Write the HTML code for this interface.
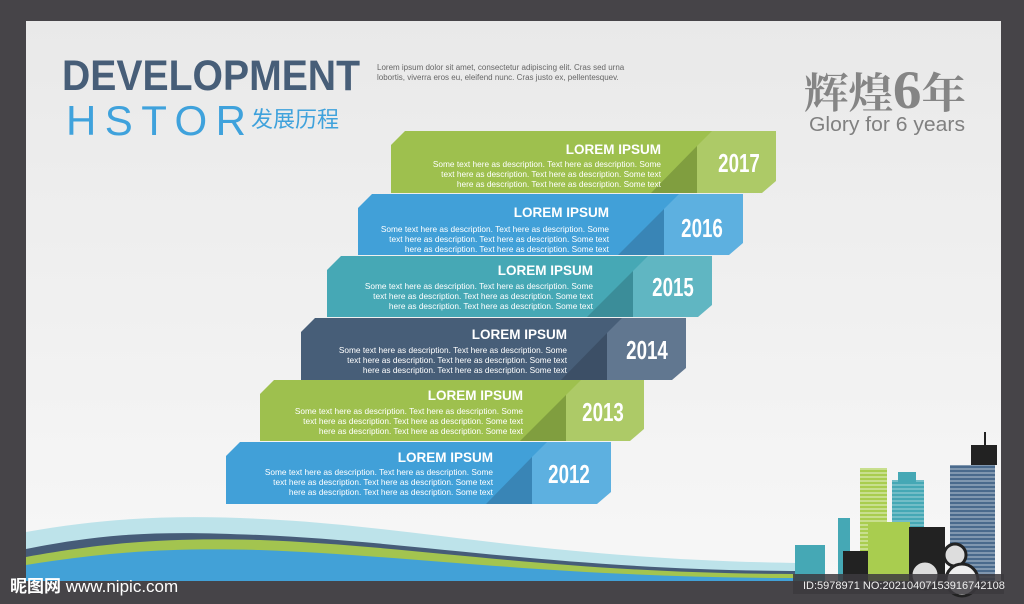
<!DOCTYPE html>
<html><head><meta charset="utf-8"><style>
html,body{margin:0;padding:0;background:#464448;}
svg{display:block}
</style></head><body>
<svg width="1024" height="604" viewBox="0 0 1024 604" xmlns="http://www.w3.org/2000/svg" font-family="Liberation Sans, sans-serif">
<defs>
<linearGradient id="bg" x1="0" y1="0" x2="0" y2="1"><stop offset="0" stop-color="#e9e9e9"/><stop offset="1" stop-color="#f7f7f7"/></linearGradient>
<pattern id="stripes" width="4" height="4" patternUnits="userSpaceOnUse"><rect width="4" height="2" fill="#fff" opacity="0.6"/></pattern>
</defs>
<rect width="1024" height="604" fill="#464448"/>
<rect x="26" y="21" width="975" height="560" fill="url(#bg)"/>
<!-- header -->
<text x="62" y="90" font-size="43" font-weight="bold" fill="#475e78" textLength="298" lengthAdjust="spacingAndGlyphs">DEVELOPMENT</text>
<text x="66" y="135" font-size="42" fill="#3fa2dc" textLength="180" lengthAdjust="spacing">HSTOR</text>
<text x="251" y="127" font-size="22" fill="#3fa2dc" font-family="Liberation Sans, Noto Sans CJK SC, sans-serif">发展历程</text>
<text x="377" y="70" font-size="8" fill="#666">Lorem ipsum dolor sit amet, consectetur adipiscing elit. Cras sed urna</text>
<text x="377" y="80" font-size="8" fill="#666">lobortis, viverra eros eu, eleifend nunc. Cras justo ex, pellentesquev.</text>
<text x="804" y="108" font-size="42" font-weight="bold" fill="#858585" font-family="Liberation Serif, Noto Serif CJK SC, serif" textLength="162" lengthAdjust="spacingAndGlyphs">辉煌<tspan font-size="54">6</tspan>年</text>
<text x="809" y="131" font-size="20" fill="#808080" textLength="156" lengthAdjust="spacingAndGlyphs">Glory for 6 years</text>

<!-- bars -->
<g id="bars">
<polygon points="391,145 405,131 697,131 697,193 391,193" fill="#9ec04e"/>
<polygon points="697,131 776,131 776,181 762,193 697,193" fill="#adca67"/>
<polygon points="651,193 697,193 697,146" fill="#809e3f"/>
<polygon points="697,131 712,131 697,146" fill="#9ec04e"/>
<polygon points="358,208 372,194 664,194 664,255 358,255" fill="#41a0d8"/>
<polygon points="664,194 743,194 743,243 729,255 664,255" fill="#5db0e0"/>
<polygon points="618,255 664,255 664,209" fill="#3985b6"/>
<polygon points="664,194 679,194 664,209" fill="#41a0d8"/>
<polygon points="327,270 341,256 633,256 633,317 327,317" fill="#46a8b5"/>
<polygon points="633,256 712,256 712,305 698,317 633,317" fill="#60b6c2"/>
<polygon points="587,317 633,317 633,271" fill="#3b8d99"/>
<polygon points="633,256 648,256 633,271" fill="#46a8b5"/>
<polygon points="301,332 315,318 607,318 607,380 301,380" fill="#475e78"/>
<polygon points="607,318 686,318 686,368 672,380 607,380" fill="#617790"/>
<polygon points="561,380 607,380 607,333" fill="#3c4f66"/>
<polygon points="607,318 622,318 607,333" fill="#475e78"/>
<polygon points="260,394 274,380 566,380 566,441 260,441" fill="#9ec04e"/>
<polygon points="566,380 644,380 644,429 630,441 566,441" fill="#adca67"/>
<polygon points="520,441 566,441 566,395" fill="#809e3f"/>
<polygon points="566,380 581,380 566,395" fill="#9ec04e"/>
<polygon points="226,456 240,442 532,442 532,504 226,504" fill="#41a0d8"/>
<polygon points="532,442 611,442 611,492 597,504 532,504" fill="#5db0e0"/>
<polygon points="486,504 532,504 532,457" fill="#3985b6"/>
<polygon points="532,442 547,442 532,457" fill="#41a0d8"/>
</g>
<g fill="#fff" text-anchor="end">
<g font-size="13.5" font-weight="bold">
<text x="661" y="154">LOREM IPSUM</text>
<text x="609" y="217">LOREM IPSUM</text>
<text x="593" y="275">LOREM IPSUM</text>
<text x="567" y="339">LOREM IPSUM</text>
<text x="523" y="400">LOREM IPSUM</text>
<text x="493" y="462">LOREM IPSUM</text>
</g>
<g font-size="8.3">
<text x="661" y="167">Some text here as description. Text here as description. Some</text>
<text x="661" y="177">text here as description. Text here as description. Some text</text>
<text x="661" y="187">here as description. Text here as description. Some text</text>
<text x="609" y="232">Some text here as description. Text here as description. Some</text>
<text x="609" y="242">text here as description. Text here as description. Some text</text>
<text x="609" y="252">here as description. Text here as description. Some text</text>
<text x="593" y="289">Some text here as description. Text here as description. Some</text>
<text x="593" y="299">text here as description. Text here as description. Some text</text>
<text x="593" y="309">here as description. Text here as description. Some text</text>
<text x="567" y="353">Some text here as description. Text here as description. Some</text>
<text x="567" y="363">text here as description. Text here as description. Some text</text>
<text x="567" y="373">here as description. Text here as description. Some text</text>
<text x="523" y="414">Some text here as description. Text here as description. Some</text>
<text x="523" y="424">text here as description. Text here as description. Some text</text>
<text x="523" y="434">here as description. Text here as description. Some text</text>
<text x="493" y="475">Some text here as description. Text here as description. Some</text>
<text x="493" y="485">text here as description. Text here as description. Some text</text>
<text x="493" y="495">here as description. Text here as description. Some text</text>
</g>
</g>
<g fill="#fff" font-size="26" font-weight="bold" text-anchor="middle">
<text transform="translate(739,172) scale(0.72,1)">2017</text>
<text transform="translate(702,237) scale(0.72,1)">2016</text>
<text transform="translate(673,296) scale(0.72,1)">2015</text>
<text transform="translate(647,359) scale(0.72,1)">2014</text>
<text transform="translate(603,421) scale(0.72,1)">2013</text>
<text transform="translate(569,483) scale(0.72,1)">2012</text>
</g>

<!-- waves -->
<path d="M26,532 C120,515 200,515 280,520 C420,528 560,560 800,563 L800,581 L26,581 Z" fill="#bde3ea"/>
<path d="M26,549 C120,530 180,532 260,535 C420,542 560,570 800,571 L800,581 L26,581 Z" fill="#465c78"/>
<path d="M26,557 C120,540 180,538 260,540 C420,546 560,574 800,574 L800,581 L26,581 Z" fill="#a3c44f"/>
<path d="M26,565 C120,550 180,548 260,550 C420,556 560,578 800,578 L800,581 L26,581 Z" fill="#42a1d7"/>

<!-- city -->
<g>
<rect x="795" y="545" width="30" height="36" fill="#45a8b5"/>
<rect x="838" y="518" width="12" height="63" fill="#45a8b5"/>
<rect x="892" y="480" width="32" height="70" fill="#45a8b5"/>
<rect x="892" y="480" width="32" height="70" fill="url(#stripes)" opacity="0.4"/>
<rect x="898" y="472" width="18" height="10" fill="#45a8b5"/>
<rect x="860" y="468" width="27" height="113" fill="#a9cd4f"/>
<rect x="860" y="468" width="27" height="113" fill="url(#stripes)" opacity="0.6"/>
<rect x="868" y="522" width="42" height="59" fill="#a9cd4f"/>
<rect x="909" y="527" width="36" height="54" fill="#222"/>
<rect x="843" y="551" width="25" height="30" fill="#222"/>
<rect x="950" y="465" width="45" height="116" fill="#4a6a8c"/>
<rect x="950" y="465" width="45" height="116" fill="url(#stripes)" opacity="0.5"/>
<rect x="971" y="445" width="26" height="20" fill="#222"/>
<rect x="984" y="432" width="2" height="14" fill="#222"/>
<circle cx="925" cy="575" r="14" fill="#ddd" stroke="#222" stroke-width="3"/>
<circle cx="955" cy="555" r="11" fill="#ddd" stroke="#222" stroke-width="3"/>
<circle cx="962" cy="580" r="16" fill="#eee" stroke="#222" stroke-width="3"/>
</g>

<!-- watermarks -->
<rect x="793" y="574" width="211" height="20" fill="#3c3a3e" opacity="0.85"/>
<text x="803" y="589" font-size="11" fill="#eee">ID:5978971 NO:20210407153916742108</text>
<text x="10" y="592" font-size="17" font-weight="bold" fill="#fff" font-family="Liberation Sans, Noto Sans CJK SC, sans-serif">昵图网 <tspan font-weight="normal">www.nipic.com</tspan></text>
</svg>
</body></html>
